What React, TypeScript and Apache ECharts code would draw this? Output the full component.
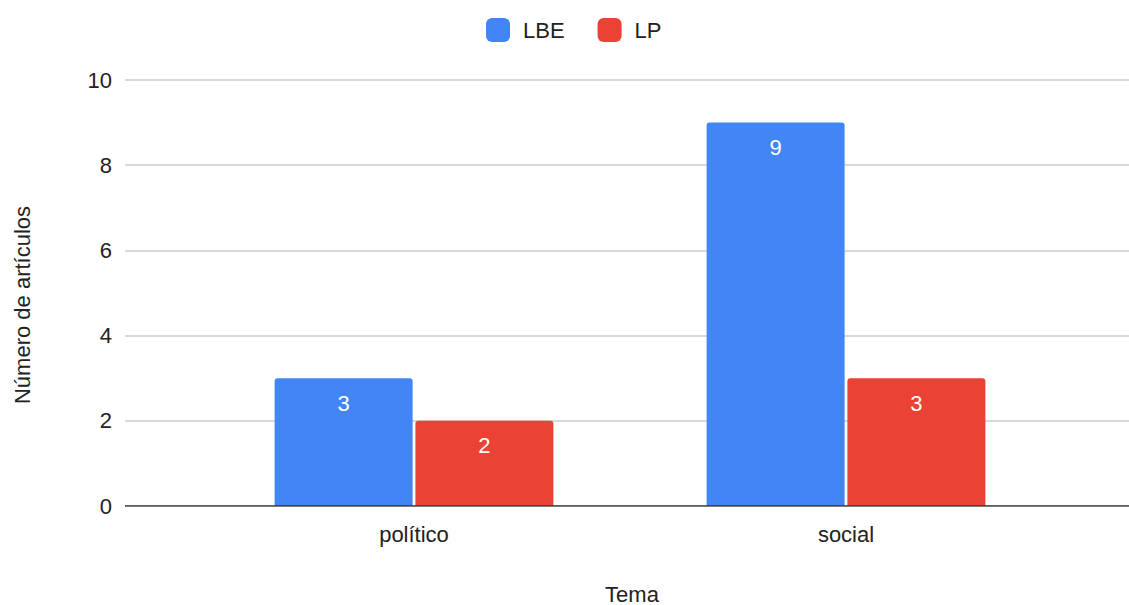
import React, { useEffect, useRef } from "react";
import * as echarts from "echarts";

const categories = ["político", "social"];
const seriesNames = ["LBE", "LP"];
const lbeValues = [3, 9];
const lpValues = [2, 3];
const yTicks = [0, 2, 4, 6, 8, 10];
const colors = ["#4285f4", "#ea4335"];

export default function App() {
  const ref = useRef<HTMLDivElement>(null);
  useEffect(() => {
    document.body.style.margin = "0";
    const chart = echarts.init(ref.current!, null, { renderer: "svg" });
    const font = "'Liberation Sans', Arial, sans-serif";
    const label = {
      show: true,
      position: "insideTop",
      distance: 14,
      color: "#ffffff",
      fontSize: 22,
      fontFamily: font,
    };
    chart.setOption({
      animation: false,
      backgroundColor: "#ffffff",
      textStyle: { fontFamily: font },
      legend: {
        left: 481,
        top: 13,
        itemWidth: 24,
        itemHeight: 24,
        itemGap: 33,
        icon: "roundRect",
        textStyle: { fontSize: 22, color: "#222", fontFamily: font, padding: [0, 0, 0, 8] },
        data: seriesNames,
      },
      grid: [
        { left: 125, right: 0, top: 80, bottom: 99 },
        { left: 198, right: 67, top: 80, bottom: 99 },
      ],
      xAxis: [
        {
          gridIndex: 0,
          type: "value",
          min: 0,
          max: 1,
          axisLine: { show: false },
          axisTick: { show: false },
          axisLabel: { show: false },
          splitLine: { show: false },
        },
        {
          gridIndex: 1,
          type: "category",
          data: categories,
          axisLine: { show: false },
          axisTick: { show: false },
          axisLabel: { fontSize: 22, color: "#222", margin: 17, fontFamily: font },
        },
      ],
      yAxis: [
        {
          gridIndex: 0,
          type: "value",
          min: yTicks[0],
          max: yTicks[yTicks.length - 1],
          interval: 2,
          axisLine: { show: false },
          axisTick: { show: false },
          axisLabel: { fontSize: 22, color: "#222", margin: 13, fontFamily: font },
          splitLine: { lineStyle: { color: "#cccccc", width: 1.5 } },
        },
        {
          gridIndex: 1,
          type: "value",
          min: yTicks[0],
          max: yTicks[yTicks.length - 1],
          interval: 2,
          show: false,
        },
      ],
      series: [
        {
          name: "axisline",
          type: "line",
          xAxisIndex: 0,
          yAxisIndex: 0,
          data: [[0, 0], [1, 0]],
          symbol: "none",
          lineStyle: { color: "#333333", width: 1.5 },
          silent: true,
          z: 5,
        },
        {
          name: seriesNames[0],
          type: "bar",
          xAxisIndex: 1,
          yAxisIndex: 1,
          data: lbeValues,
          barWidth: 138,
          barGap: "2%",
          itemStyle: { color: colors[0], borderRadius: [3, 3, 0, 0] },
          label,
        },
        {
          name: seriesNames[1],
          type: "bar",
          xAxisIndex: 1,
          yAxisIndex: 1,
          data: lpValues,
          barWidth: 138,
          barGap: "2%",
          itemStyle: { color: colors[1], borderRadius: [3, 3, 0, 0] },
          label,
        },
      ],
      graphic: [
        {
          type: "text",
          x: 632,
          y: 594,
          style: {
            text: "Tema",
            fontSize: 22,
            fill: "#222",
            fontFamily: font,
            align: "center",
            verticalAlign: "middle",
          },
        },
        {
          type: "text",
          x: 22,
          y: 305,
          rotation: Math.PI / 2,
          style: {
            text: "Número de artículos",
            fontSize: 22,
            fill: "#222",
            fontFamily: font,
            align: "center",
            verticalAlign: "middle",
          },
        },
      ],
    });
    return () => chart.dispose();
  }, []);
  return <div ref={ref} style={{ position: "fixed", left: 0, top: 0, width: 1129, height: 605 }} />;
}
